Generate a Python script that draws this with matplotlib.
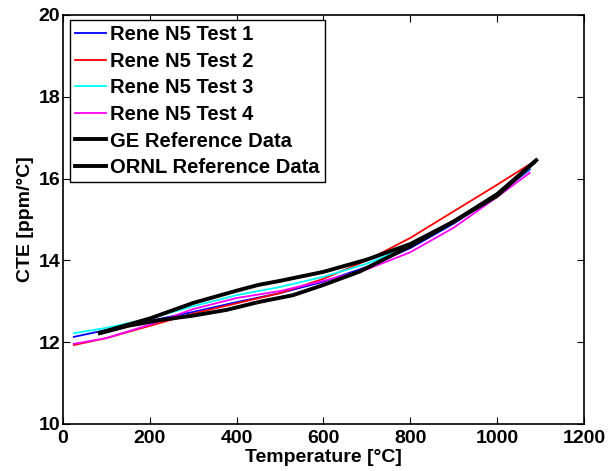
import matplotlib
matplotlib.use("Agg")
import matplotlib.pyplot as plt
import numpy as np

plt.rcParams['font.family'] = ['Liberation Sans', 'DejaVu Sans']
plt.rcParams['font.weight'] = 'bold'

T_test = [25, 100, 200, 300, 400, 500, 600, 700, 800, 900, 1000, 1075]
test1 = [12.13, 12.30, 12.52, 12.74, 12.98, 13.20, 13.48, 13.84, 14.30, 14.90, 15.60, 16.22]
test2 = [11.93, 12.10, 12.40, 12.70, 12.95, 13.20, 13.55, 14.00, 14.55, 15.20, 15.85, 16.35]
test3 = [12.22, 12.35, 12.58, 12.88, 13.15, 13.35, 13.60, 13.92, 14.35, 14.92, 15.60, 16.25]
test4 = [11.96, 12.10, 12.43, 12.81, 13.08, 13.25, 13.50, 13.78, 14.20, 14.80, 15.55, 16.14]

T_ge = [85, 200, 300, 400, 450, 500, 600, 700, 800, 900, 1000, 1090]
ge = [12.23, 12.58, 12.96, 13.26, 13.40, 13.50, 13.72, 14.02, 14.40, 14.95, 15.58, 16.45]

T_ornl = [85, 150, 223, 300, 377, 450, 530, 600, 684, 800, 900, 1000, 1085]
ornl = [12.22, 12.40, 12.54, 12.65, 12.79, 12.98, 13.15, 13.40, 13.73, 14.35, 14.95, 15.62, 16.40]

xticks = [0, 200, 400, 600, 800, 1000, 1200]
yticks = [10, 12, 14, 16, 18, 20]

fig = plt.figure(figsize=(6.08, 4.71), dpi=100)
ax = fig.add_axes([0.1036, 0.0998, 0.8569, 0.8684])

ax.plot(T_test, test1, color='blue', lw=1.3, label='Rene N5 Test 1')
ax.plot(T_test, test2, color='red', lw=1.3, label='Rene N5 Test 2')
ax.plot(T_test, test3, color='cyan', lw=1.3, label='Rene N5 Test 3')
ax.plot(T_test, test4, color='magenta', lw=1.3, label='Rene N5 Test 4')
ax.plot(T_ge, ge, color='black', lw=2.8, label='GE Reference Data')
ax.plot(T_ornl, ornl, color='black', lw=2.8, label='ORNL Reference Data')

ax.set_xlim(0, 1200)
ax.set_ylim(10, 20)
ax.set_xticks(xticks)
ax.set_yticks(yticks)
ax.tick_params(axis='both', direction='in', top=True, right=True, length=5, width=0.8,
               labelsize=14)
ax.tick_params(axis='x', pad=4)
ax.tick_params(axis='y', pad=2)
for lab in ax.get_xticklabels() + ax.get_yticklabels():
    lab.set_fontweight('bold')
for s in ax.spines.values():
    s.set_linewidth(1.2)

ax.set_xlabel('Temperature [°C]', fontsize=14, fontweight='bold', labelpad=2)
ax.set_ylabel('CTE [ppm/°C]', fontsize=14, fontweight='bold', labelpad=3)

leg = ax.legend(loc='upper left', bbox_to_anchor=(0.013, 0.988), borderaxespad=0,
                fancybox=False, edgecolor='black', framealpha=1,
                prop={'size': 14.5, 'weight': 'bold'}, handlelength=1.55,
                handletextpad=0.2, labelspacing=0.38, borderpad=0.25)
leg.get_frame().set_linewidth(1.0)

fig.savefig('out.png', dpi=100)
